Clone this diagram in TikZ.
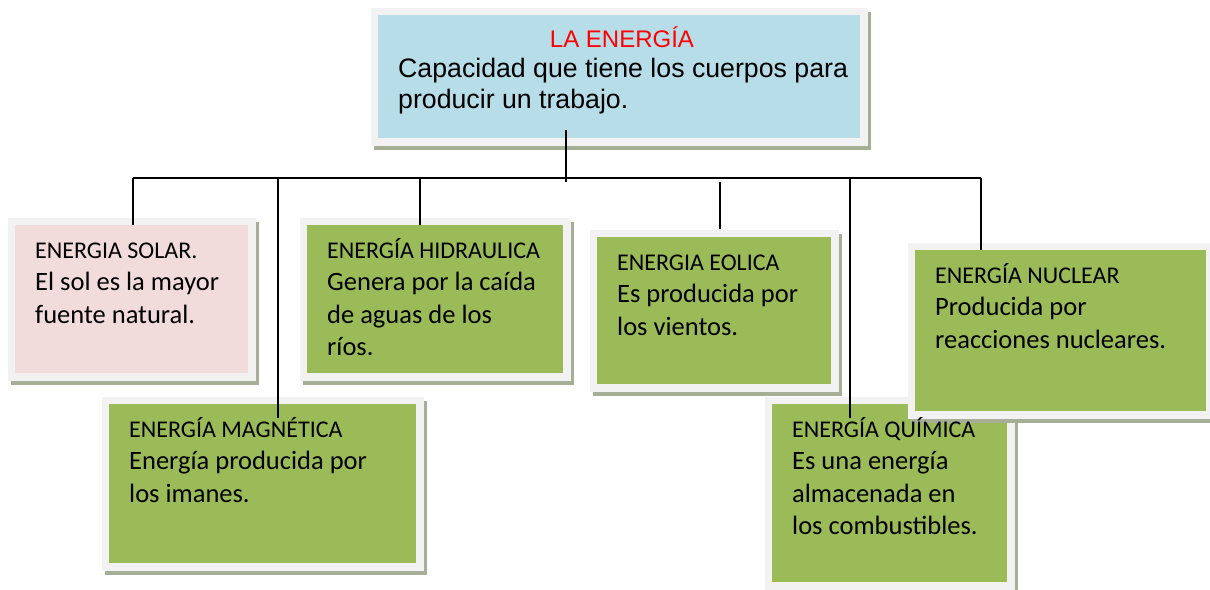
\documentclass[tikz,border=0pt]{standalone}
\usepackage{fontspec}
\setmainfont{Carlito}
\newfontfamily\arialfont{Liberation Sans}
\usepackage{xcolor}
\usepackage{tikz}
\usetikzlibrary{calc}

\definecolor{framegray}{RGB}{242,242,242}
\definecolor{shadowc}{RGB}{166,174,150}
\definecolor{aquafill}{RGB}{183,221,232}
\definecolor{rosefill}{RGB}{242,220,219}
\definecolor{olivefill}{RGB}{155,187,89}

\newcommand{\boxtext}[3]{%
  \node[txt] (#1-t) at ([shift={(20,33)}]#1.north west) {\parbox[t]{300pt}{{\fontsize{24}{30}\selectfont #2}\\#3}};}

\begin{document}
\begin{tikzpicture}[x=1pt, y=-1pt,
    ebox/.style={anchor=north west, inner sep=0pt, outer sep=0pt, fill=#1,
        preaction={fill=shadowc, draw=shadowc, line width=15pt, transform canvas={shift={(3pt,-4pt)}}},
        preaction={draw=framegray, line width=15pt}},
    txt/.style={anchor=base west, inner sep=0pt, font=\fontsize{26.5}{32.5}\selectfont},
    conn/.style={line width=1.8pt}]
    \useasboundingbox (0,0) rectangle (1210,589);

    \node[ebox=aquafill, minimum width=482pt, minimum height=123pt] (top) at (378,15) {};
    \node[ebox=rosefill, minimum width=233pt, minimum height=148pt] (solar) at (15,225) {};
    \node[ebox=olivefill, minimum width=256pt, minimum height=148pt] (hidra) at (307,225) {};
    \node[ebox=olivefill, minimum width=234pt, minimum height=147pt] (eolica) at (597,237) {};
    \node[ebox=olivefill, minimum width=307pt, minimum height=159pt] (magnet) at (109,404) {};
    \node[ebox=olivefill, minimum width=235pt, minimum height=178pt] (quimica) at (772,404) {};
    \node[ebox=olivefill, minimum width=291pt, minimum height=161pt] (nuclear) at (915,250) {};

    \coordinate (busL) at (133,178);
    \coordinate (busR) at (981,178);
    \draw[conn] (busL) -- (busR);
    \draw[conn] ([shift={(-53,-8)}]top.south) -- ++(0,52);
    \foreach \x/\s/\n/\d in {133/178/solar/0, 278/178/magnet/14, 420/178/hidra/0,
                             720/182/eolica/-8, 850/178/quimica/14, 981/178/nuclear/0}{
        \draw[conn] (\x,\s) -- ($(\x,178 |- \n.north)+(0,\d)$); % some run into the box
    }

    \node[anchor=base, inner sep=0pt, text=red, font=\arialfont\fontsize{24}{28}\selectfont] (top-t) at ([shift={(3,32)}]top.north) {LA ENERGÍA};
    \node[txt, font=\arialfont\fontsize{26.7}{31}\selectfont] (top-b) at ([shift={(20,62)}]top.north west) {\parbox[t]{470pt}{Capacidad que tiene los cuerpos para\\producir un trabajo.}};
    \boxtext{solar}{ENERGIA SOLAR.}{El sol es la mayor\\fuente natural.}
    \boxtext{hidra}{ENERGÍA HIDRAULICA}{Genera por la caída\\de aguas de los\\ríos.}
    \boxtext{eolica}{ENERGIA EOLICA}{Es producida por\\los vientos.}
    \boxtext{magnet}{ENERGÍA MAGNÉTICA}{Energía producida por\\los imanes.}
    \boxtext{quimica}{ENERGÍA QUÍMICA}{Es una energía\\almacenada en\\los combustibles.}
    \boxtext{nuclear}{ENERGÍA NUCLEAR}{Producida por\\reacciones nucleares.}
\end{tikzpicture}
\end{document}
